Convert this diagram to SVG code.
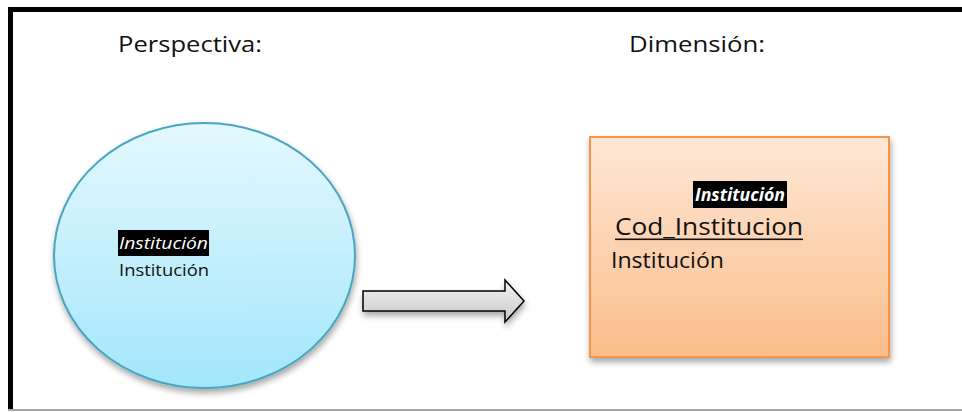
<svg xmlns="http://www.w3.org/2000/svg" width="962" height="412" viewBox="0 0 962 412">
<defs>
<linearGradient id="gBlue" x1="0" y1="0" x2="0" y2="1">
<stop offset="0" stop-color="#e4f8fe"/>
<stop offset="1" stop-color="#a3e6fb"/>
</linearGradient>
<linearGradient id="gOrange" x1="0" y1="0" x2="0" y2="1">
<stop offset="0" stop-color="#fde8d7"/>
<stop offset="1" stop-color="#fbbd8a"/>
</linearGradient>
<linearGradient id="gGray" x1="0" y1="0" x2="0" y2="1">
<stop offset="0" stop-color="#f2f2f2"/>
<stop offset="1" stop-color="#c9c9c9"/>
</linearGradient>
<filter id="shadow" x="-10%" y="-10%" width="130%" height="130%">
<feGaussianBlur in="SourceAlpha" stdDeviation="3"/>
<feOffset dx="1" dy="4" result="b"/>
<feComponentTransfer><feFuncA type="linear" slope="0.35"/></feComponentTransfer>
<feMerge><feMergeNode/><feMergeNode in="SourceGraphic"/></feMerge>
</filter>
</defs>
<style>
text { font-family: "Open Sans", "Liberation Sans", sans-serif; fill: #111; }
.title { font-size: 22px; }
.hl { fill: #000; }
.hlt { fill: #fff; font-style: italic; }
</style>
<rect width="962" height="412" fill="#fff"/>
<g id="frame">
<rect x="8" y="7" width="954" height="5" fill="#000"/>
<rect x="8" y="7" width="5" height="403" fill="#000"/>
<rect x="8" y="409" width="954" height="2" fill="#a6a6a6"/>
</g>
<g id="titles">
<text class="title" x="118" y="52" textLength="144" lengthAdjust="spacingAndGlyphs">Perspectiva:</text>
<text class="title" x="629" y="52" textLength="136" lengthAdjust="spacingAndGlyphs">Dimensión:</text>
</g>
<g id="perspectiva">
<ellipse cx="204.5" cy="255.5" rx="150.5" ry="132.5" fill="url(#gBlue)" stroke="#4aa6c0" stroke-width="2" filter="url(#shadow)"/>
<rect class="hl" x="118" y="230" width="91" height="26"/>
<text class="hlt" x="119" y="249" font-size="17" textLength="89" lengthAdjust="spacingAndGlyphs">Institución</text>
<text x="119" y="276" font-size="17" textLength="90" lengthAdjust="spacingAndGlyphs">Institución</text>
</g>
<g id="connectors">
<path d="M363 291 H505 V280 L524 301 L505 322 V311 H363 Z" fill="url(#gGray)" stroke="#000" stroke-width="1.5" stroke-linejoin="miter" filter="url(#shadow)"/>
</g>
<g id="dimension">
<rect x="590" y="137" width="299" height="220" fill="url(#gOrange)" stroke="#f79646" stroke-width="2" filter="url(#shadow)"/>
<rect class="hl" x="693" y="181" width="94" height="27"/>
<text class="hlt" x="695" y="201" font-size="17" font-weight="bold" textLength="90" lengthAdjust="spacingAndGlyphs">Institución</text>
<text x="615" y="235" font-size="24" textLength="188" lengthAdjust="spacingAndGlyphs">Cod_Institucion</text>
<rect x="615" y="238.5" width="188" height="1.6" fill="#111"/>
<text x="611" y="268" font-size="21" textLength="113" lengthAdjust="spacingAndGlyphs">Institución</text>
</g>
</svg>
